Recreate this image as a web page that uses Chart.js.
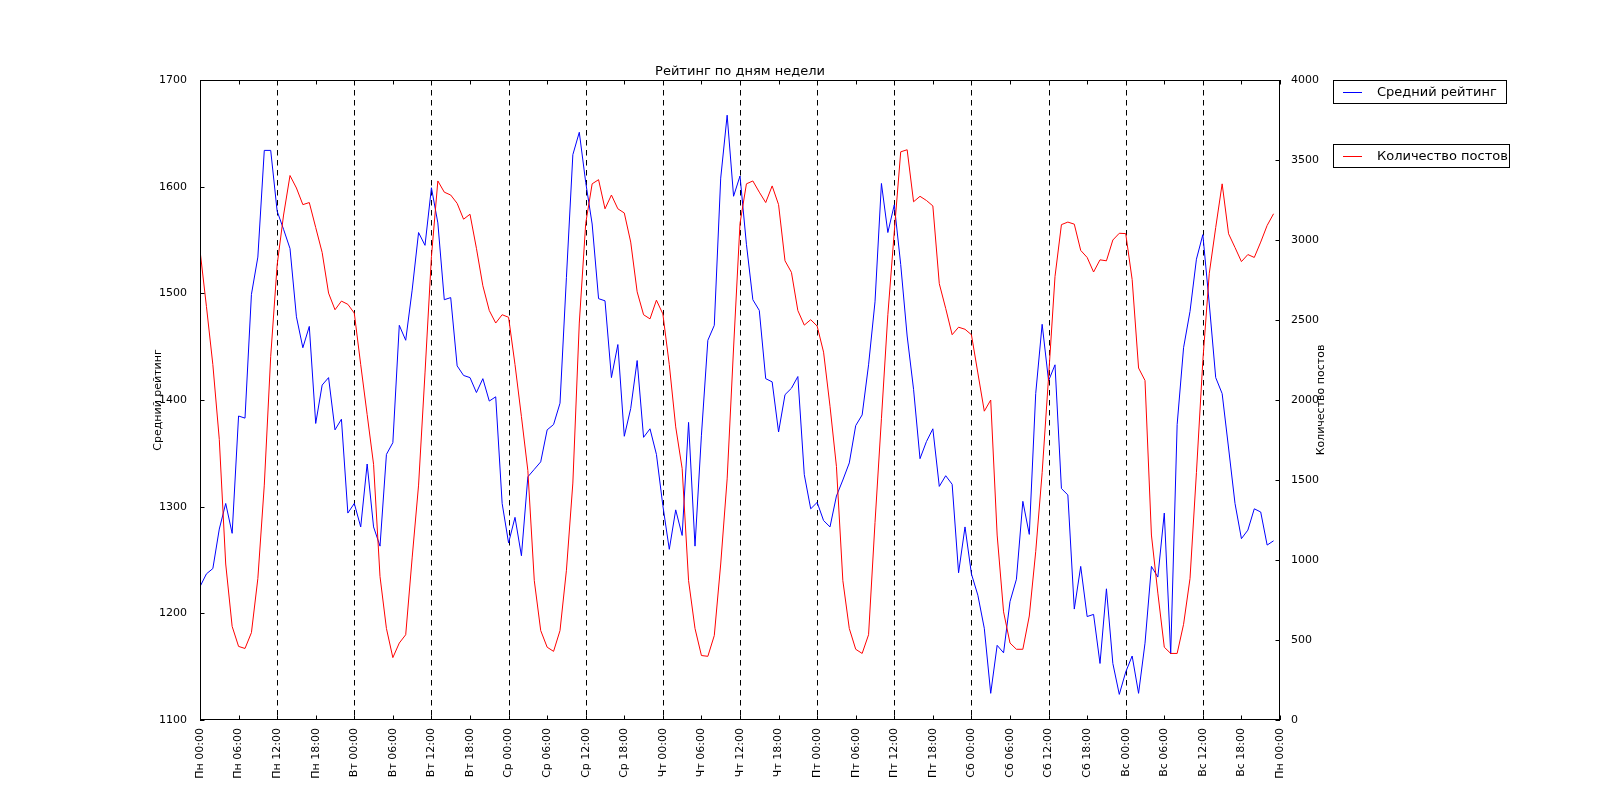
<!DOCTYPE html>
<html><head><meta charset="utf-8">
<script src="https://cdn.jsdelivr.net/npm/chart.js@4.4.0/dist/chart.umd.min.js"></script>
<style>html,body{margin:0;padding:0;background:#fff;} #wrap{width:1600px;height:800px;position:relative}</style>
</head><body><div id="wrap"><canvas id="c" width="1600" height="800"></canvas></div>
<script>
const titleText = 'Рейтинг по дням недели';
const leftAxisTitle = 'Средний рейтинг';
const rightAxisTitle = 'Количество постов';
const seriesNames = ['Средний рейтинг', 'Количество постов'];

const xTickValues = [0,6,12,18,24,30,36,42,48,54,60,66,72,78,84,90,96,102,108,114,120,126,132,138,144,150,156,162,168];
const xTickLabels = ['Пн 00:00','Пн 06:00','Пн 12:00','Пн 18:00','Вт 00:00','Вт 06:00','Вт 12:00','Вт 18:00',
  'Ср 00:00','Ср 06:00','Ср 12:00','Ср 18:00','Чт 00:00','Чт 06:00','Чт 12:00','Чт 18:00',
  'Пт 00:00','Пт 06:00','Пт 12:00','Пт 18:00','Сб 00:00','Сб 06:00','Сб 12:00','Сб 18:00',
  'Вс 00:00','Вс 06:00','Вс 12:00','Вс 18:00','Пн 00:00'];
const dashedHours = [12,24,36,48,60,72,84,96,108,120,132,144,156];

const rating = [
  1225,1237,1242,1279,1303,1275,1385,1383,1499,1534,1634,1634,1577,1560,1542,1478,1449,1469,1378,1414,1421,1372,1382,1294,
  1303,1281,1340,1281,1263,1349,1360,1470,1456,1503,1557,1545,1599,1566,1494,1496,1432,1423,1421,1407,1420,1399,1403,1303,
  1266,1290,1254,1328,1335,1342,1372,1377,1397,1515,1630,1651,1604,1565,1495,1493,1421,1452,1366,1392,1437,1365,1373,1349,
  1301,1260,1297,1273,1379,1263,1367,1456,1470,1608,1667,1591,1610,1546,1494,1484,1420,1417,1370,1405,1411,1422,1330,1298,
  1304,1287,1281,1310,1325,1341,1376,1386,1433,1492,1603,1557,1583,1527,1460,1410,1345,1361,1373,1319,1329,1321,1238,1281,
  1237,1217,1186,1125,1170,1163,1211,1232,1305,1274,1406,1471,1418,1433,1317,1311,1204,1244,1197,1199,1153,1223,1153,1124,
  1145,1160,1125,1172,1244,1234,1294,1162,1377,1449,1483,1532,1555,1490,1421,1406,1355,1303,1270,1278,1298,1295,1264,1268
];
const posts = [
  2935,2585,2221,1754,975,585,460,447,546,884,1468,2273,2844,3156,3403,3325,3221,3234,3078,2922,2668,2564,2618,2598,
  2543,2221,1909,1598,897,572,390,481,533,1013,1468,2169,2896,3369,3299,3281,3229,3130,3161,2948,2714,2559,2481,2533,
  2517,2221,1896,1559,871,559,455,429,559,936,1481,2481,3104,3351,3377,3195,3281,3195,3169,2987,2676,2533,2507,2624,
  2538,2221,1832,1572,871,572,403,398,528,975,1507,2325,3104,3351,3369,3299,3234,3338,3221,2870,2798,2559,2468,2502,
  2462,2299,1961,1585,871,572,442,416,533,1234,1883,2533,3052,3551,3564,3239,3273,3247,3213,2727,2572,2408,2455,2442,
  2408,2169,1930,2000,1156,676,481,442,442,650,1052,1546,2143,2772,3096,3112,3099,2935,2891,2800,2876,2870,3000,3042,
  3040,2753,2200,2122,1156,793,455,416,416,598,884,1546,2247,2792,3078,3351,3039,2953,2865,2909,2891,2987,3091,3164
];

const FONT = 'DejaVu Sans';
const BLUE = 'rgb(0,0,255)';
const RED = 'rgb(255,0,0)';

const ratingPts = rating.map((v, i) => ({x: i, y: v}));
const postsPts = posts.map((v, i) => ({x: i, y: v}));

const decor = {
  id: 'decor',
  beforeDatasetsDraw(chart) {
    const {ctx, chartArea: a, scales: {x}} = chart;
    ctx.save();
    ctx.strokeStyle = '#000';
    ctx.lineWidth = 1;
    ctx.setLineDash([5.5, 4.5]);
    dashedHours.forEach(h => {
      const px = Math.round(x.getPixelForValue(h)) + 0.5;
      ctx.beginPath(); ctx.moveTo(px, a.top); ctx.lineTo(px, a.bottom); ctx.stroke();
    });
    ctx.restore();
  },
  afterDraw(chart) {
    const {ctx, chartArea: a, scales: {x, y, y1}} = chart;
    ctx.save();
    ctx.strokeStyle = '#000';
    ctx.lineWidth = 1;
    ctx.strokeRect(a.left + 0.5, a.top + 0.5, a.right - a.left - 1, a.bottom - a.top - 1);
    const TL = 4.5;
    ctx.beginPath();
    xTickValues.forEach(v => {
      const px = Math.round(x.getPixelForValue(v)) + 0.5;
      ctx.moveTo(px, a.bottom); ctx.lineTo(px, a.bottom - TL);
      ctx.moveTo(px, a.top); ctx.lineTo(px, a.top + TL);
    });
    y.ticks.forEach(t => {
      const py = Math.round(y.getPixelForValue(t.value)) + 0.5;
      ctx.moveTo(a.left, py); ctx.lineTo(a.left + TL, py);
    });
    y1.ticks.forEach(t => {
      const py = Math.round(y1.getPixelForValue(t.value)) + 0.5;
      ctx.moveTo(a.right, py); ctx.lineTo(a.right - TL, py);
    });
    ctx.stroke();
    ctx.fillStyle = '#000';
    ctx.font = '13px "' + FONT + '"';
    ctx.textAlign = 'center';
    ctx.textBaseline = 'alphabetic';
    ctx.fillText(titleText, (a.left + a.right) / 2, a.top - 5);
    ctx.font = '11px "' + FONT + '"';
    ctx.save();
    ctx.translate(158, (a.top + a.bottom) / 2);
    ctx.rotate(-Math.PI / 2);
    ctx.textBaseline = 'middle';
    ctx.fillText(leftAxisTitle, 0, 0);
    ctx.restore();
    ctx.save();
    ctx.translate(1321, (a.top + a.bottom) / 2);
    ctx.rotate(-Math.PI / 2);
    ctx.textBaseline = 'middle';
    ctx.fillText(rightAxisTitle, 0, 0);
    ctx.restore();
    const boxes = [
      {x: 1333.5, y: 80.5, w: 173, h: 23, color: BLUE, text: seriesNames[0]},
      {x: 1333.5, y: 144.5, w: 176, h: 23, color: RED, text: seriesNames[1]}
    ];
    ctx.font = '13px "' + FONT + '"';
    ctx.textAlign = 'left';
    ctx.textBaseline = 'middle';
    boxes.forEach(b => {
      ctx.fillStyle = '#fff';
      ctx.fillRect(b.x, b.y, b.w, b.h);
      ctx.strokeStyle = '#000';
      ctx.strokeRect(b.x, b.y, b.w, b.h);
      const cy = Math.round(b.y + b.h / 2) + 0.5;
      ctx.strokeStyle = b.color;
      ctx.beginPath(); ctx.moveTo(1343, cy); ctx.lineTo(1362, cy); ctx.stroke();
      ctx.fillStyle = '#000';
      ctx.fillText(b.text, 1377, b.y + b.h / 2 + 0.5);
    });
    ctx.restore();
  }
};

new Chart(document.getElementById('c'), {
  type: 'line',
  data: {
    datasets: [
      {label: seriesNames[0], data: ratingPts, yAxisID: 'y', borderColor: BLUE, borderWidth: 1, pointRadius: 0, tension: 0, fill: false, order: 2},
      {label: seriesNames[1], data: postsPts, yAxisID: 'y1', borderColor: RED, borderWidth: 1, pointRadius: 0, tension: 0, fill: false, order: 1}
    ]
  },
  options: {
    responsive: false,
    animation: false,
    devicePixelRatio: 1,
    parsing: false,
    layout: {padding: {top: 80, left: 0, right: 0, bottom: 0}},
    plugins: {legend: {display: false}, title: {display: false}, tooltip: {enabled: false}},
    scales: {
      x: {
        type: 'linear', position: 'bottom', min: 0, max: 168,
        afterBuildTicks: s => { s.ticks = xTickValues.map(v => ({value: v})); },
        afterFit: s => { s.height = 80; },
        ticks: {
          autoSkip: false, maxRotation: 90, minRotation: 90, padding: 0,
          color: '#000', font: {family: FONT, size: 11},
          callback: (v) => xTickLabels[xTickValues.indexOf(v)]
        },
        grid: {display: false},
        border: {display: false}
      },
      y: {
        type: 'linear', position: 'left', min: 1100, max: 1700,
        afterFit: s => { s.width = 200; },
        ticks: {stepSize: 100, padding: 5, color: '#000', font: {family: FONT, size: 11}, callback: v => String(v)},
        grid: {display: false},
        border: {display: false}
      },
      y1: {
        type: 'linear', position: 'right', min: 0, max: 4000,
        afterFit: s => { s.width = 320; },
        ticks: {stepSize: 500, padding: 3, color: '#000', font: {family: FONT, size: 11}, callback: v => String(v)},
        grid: {display: false},
        border: {display: false}
      }
    }
  },
  plugins: [decor]
});
</script>
</body></html>
